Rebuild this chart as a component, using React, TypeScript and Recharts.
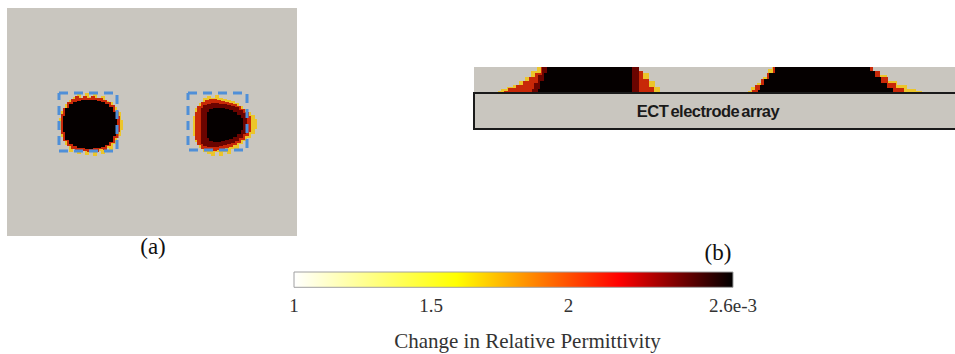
import React from 'react';
import { ComposedChart, Area, Line, Bar, XAxis, YAxis, ReferenceArea } from 'recharts';

// panel (a): plan view, units of the panel grid (x 0..290, y 0..228, y downward)
const leftBlobOuter = [
  { x: 52, r: [110, 122] }, { x: 56, r: [103, 129] }, { x: 60, r: [96, 137] }, { x: 64, r: [92, 144] },
  { x: 68, r: [89, 140] }, { x: 72, r: [86, 146] }, { x: 76, r: [90, 142] }, { x: 80, r: [85, 147] },
  { x: 84, r: [89, 143] }, { x: 88, r: [86, 148] }, { x: 92, r: [90, 143] }, { x: 96, r: [88, 146] },
  { x: 100, r: [93, 140] }, { x: 104, r: [94, 142] }, { x: 108, r: [99, 136] }, { x: 112, r: [104, 128] },
  { x: 116, r: [112, 122] },
];
const leftBlobRed = [
  { x: 54, r: [106, 126] }, { x: 58, r: [100, 133] }, { x: 62, r: [94, 138] }, { x: 66, r: [91, 141] },
  { x: 70, r: [88, 142] }, { x: 74, r: [90, 143] }, { x: 78, r: [88, 143] }, { x: 82, r: [90, 144] },
  { x: 86, r: [88, 143] }, { x: 90, r: [90, 144] }, { x: 94, r: [90, 141] }, { x: 98, r: [92, 142] },
  { x: 102, r: [94, 138] }, { x: 106, r: [97, 135] }, { x: 110, r: [103, 130] }, { x: 113, r: [108, 124] },
];
const leftBlobCore = [
  { x: 56, r: [108, 124] }, { x: 60, r: [100, 132] }, { x: 64, r: [96, 136] }, { x: 68, r: [94, 138] },
  { x: 72, r: [93, 140] }, { x: 76, r: [92, 140] }, { x: 80, r: [92, 141] }, { x: 84, r: [92, 141] },
  { x: 88, r: [92, 140] }, { x: 92, r: [93, 140] }, { x: 96, r: [94, 139] }, { x: 100, r: [96, 137] },
  { x: 104, r: [99, 134] }, { x: 108, r: [104, 128] }, { x: 110, r: [110, 122] },
];
const rightBlobOuter = [
  { x: 186, r: [108, 128] }, { x: 190, r: [100, 134] }, { x: 194, r: [95, 140] }, { x: 198, r: [90, 144] },
  { x: 202, r: [88, 146] }, { x: 206, r: [90, 148] }, { x: 210, r: [87, 144] }, { x: 214, r: [90, 148] },
  { x: 218, r: [91, 144] }, { x: 222, r: [92, 146] }, { x: 226, r: [93, 141] }, { x: 230, r: [95, 142] },
  { x: 234, r: [98, 136] }, { x: 238, r: [101, 133] }, { x: 242, r: [104, 130] }, { x: 246, r: [107, 126] },
  { x: 250, r: [111, 121] },
];
const rightBlobRed = [
  { x: 188, r: [104, 132] }, { x: 192, r: [98, 137] }, { x: 196, r: [94, 141] }, { x: 200, r: [92, 142] },
  { x: 204, r: [91, 143] }, { x: 208, r: [91, 143] }, { x: 212, r: [92, 142] }, { x: 216, r: [93, 141] },
  { x: 220, r: [94, 140] }, { x: 224, r: [95, 139] }, { x: 228, r: [96, 137] }, { x: 232, r: [98, 135] },
  { x: 236, r: [101, 132] }, { x: 240, r: [104, 128] }, { x: 244, r: [108, 124] },
];
const rightBlobDark = [
  { x: 194, r: [100, 136] }, { x: 198, r: [97, 138] }, { x: 202, r: [96, 139] }, { x: 206, r: [95, 139] },
  { x: 210, r: [95, 139] }, { x: 214, r: [96, 138] }, { x: 218, r: [96, 137] }, { x: 222, r: [97, 136] },
  { x: 226, r: [98, 135] }, { x: 230, r: [99, 133] }, { x: 234, r: [102, 130] }, { x: 238, r: [105, 126] },
  { x: 240, r: [107, 124] },
];
const rightBlobCore = [
  { x: 200, r: [104, 130] }, { x: 204, r: [101, 133] }, { x: 208, r: [100, 134] }, { x: 212, r: [100, 134] },
  { x: 216, r: [100, 133] }, { x: 220, r: [101, 132] }, { x: 224, r: [102, 131] }, { x: 228, r: [104, 129] },
  { x: 232, r: [107, 126] }, { x: 236, r: [110, 122] },
];
const leftBox = [{ x: 52, y: 85 }, { x: 110, y: 85 }, { x: 110, y: 143 }, { x: 52, y: 143 }, { x: 52, y: 85 }];
const rightBox = [{ x: 181, y: 85 }, { x: 240, y: 85 }, { x: 240, y: 142 }, { x: 181, y: 142 }, { x: 181, y: 85 }];

// panel (b): side view above the electrode array, heights 0..26
const sideLeftOuter = [
  { x: 24, h: 2 }, { x: 30, h: 4 }, { x: 36, h: 6 }, { x: 42, h: 8 }, { x: 48, h: 12 }, { x: 54, h: 16 },
  { x: 60, h: 22 }, { x: 66, h: 26 }, { x: 172, h: 20 }, { x: 178, h: 12 }, { x: 184, h: 6 }, { x: 188, h: 0 },
];
const sideLeftRed = [
  { x: 30, h: 2 }, { x: 38, h: 5 }, { x: 46, h: 8 }, { x: 52, h: 12 }, { x: 58, h: 16 }, { x: 64, h: 20 },
  { x: 70, h: 26 }, { x: 166, h: 22 }, { x: 172, h: 14 }, { x: 178, h: 6 }, { x: 182, h: 0 },
];
const sideLeftDark = [
  { x: 58, h: 4 }, { x: 62, h: 10 }, { x: 66, h: 18 }, { x: 70, h: 26 }, { x: 162, h: 26 }, { x: 168, h: 0 },
];
const sideLeftCore = [
  { x: 64, h: 4 }, { x: 68, h: 12 }, { x: 72, h: 20 }, { x: 74, h: 26 }, { x: 156, h: 26 }, { x: 160, h: 0 },
];
const sideRightOuter = [
  { x: 274, h: 2 }, { x: 280, h: 6 }, { x: 286, h: 10 }, { x: 292, h: 16 }, { x: 296, h: 24 }, { x: 300, h: 26 },
  { x: 400, h: 22 }, { x: 408, h: 18 }, { x: 418, h: 12 }, { x: 428, h: 8 }, { x: 438, h: 4 }, { x: 446, h: 2 },
  { x: 450, h: 0 },
];
const sideRightRed = [
  { x: 278, h: 3 }, { x: 284, h: 8 }, { x: 290, h: 14 }, { x: 296, h: 20 }, { x: 302, h: 26 }, { x: 396, h: 26 },
  { x: 402, h: 22 }, { x: 410, h: 16 }, { x: 418, h: 10 }, { x: 426, h: 5 }, { x: 434, h: 0 },
];
const sideRightCore = [
  { x: 284, h: 3 }, { x: 288, h: 8 }, { x: 292, h: 14 }, { x: 298, h: 20 }, { x: 304, h: 26 }, { x: 394, h: 26 },
  { x: 398, h: 22 }, { x: 404, h: 16 }, { x: 410, h: 10 }, { x: 416, h: 5 }, { x: 422, h: 0 },
];

// colour bar
const colorbarRange = [{ name: 'cb', range: [1, 2.6] }];
const colorbarTicks = [1, 1.5, 2, 2.6];
const colorbarTickLabels = ['1', '1.5', '2', '2.6e-3'];

const GRAY = '#c9c6bf';
const YELLOW = '#ecc52a';
const RED = '#c82808';
const DARK = '#6a0400';
const BLACK = '#050000';
const BLUE = '#4f8fd8';
const serif = '"Liberation Serif", "Times New Roman", serif';

function blob(data: any[], fill: string, key: string) {
  return (
    <Area key={key} data={data} dataKey="r" type="step" fill={fill} fillOpacity={1} stroke="none"
      dot={false} activeDot={false} isAnimationActive={false} />
  );
}

function side(data: any[], fill: string, key: string) {
  return (
    <Area key={key} data={data} dataKey="h" type="step" fill={fill} fillOpacity={1} stroke="none"
      baseValue={0} dot={false} activeDot={false} isAnimationActive={false} />
  );
}

export default function App() {
  return (
    <div style={{ position: 'absolute', left: 0, top: 0, width: 955, height: 354, overflow: 'hidden', background: '#fff' }}>
      <div style={{ position: 'absolute', left: 7, top: 8 }}>
        <ComposedChart width={290} height={228} margin={{ top: 0, right: 0, bottom: 0, left: 0 }}>
          <XAxis type="number" dataKey="x" domain={[0, 290]} hide allowDuplicatedCategory={false} />
          <YAxis type="number" domain={[0, 228]} reversed hide />
          <ReferenceArea x1={0} x2={290} y1={0} y2={228} fill={GRAY} fillOpacity={1} stroke="none" />
          {blob(leftBlobOuter, YELLOW, 'lo')}
          {blob(leftBlobRed, RED, 'lr')}
          {blob(leftBlobCore, BLACK, 'lc')}
          {blob(rightBlobOuter, YELLOW, 'ro')}
          {blob(rightBlobRed, RED, 'rr')}
          {blob(rightBlobDark, DARK, 'rd')}
          {blob(rightBlobCore, BLACK, 'rc')}
          <Line data={leftBox} dataKey="y" type="linear" stroke={BLUE} strokeWidth={3} strokeDasharray="9 6"
            dot={false} activeDot={false} isAnimationActive={false} />
          <Line data={rightBox} dataKey="y" type="linear" stroke={BLUE} strokeWidth={3} strokeDasharray="9 6"
            dot={false} activeDot={false} isAnimationActive={false} />
        </ComposedChart>
      </div>
      <div style={{ position: 'absolute', left: 128, top: 233, width: 50, textAlign: 'center', fontFamily: serif, fontSize: 23, lineHeight: '28px', color: '#111' }}>(a)</div>

      <div style={{ position: 'absolute', left: 472, top: 66 }}>
        <ComposedChart width={486} height={64} margin={{ top: 1, right: 0, bottom: 1, left: 2 }}>
          <XAxis type="number" dataKey="x" domain={[0, 484]} hide allowDuplicatedCategory={false} />
          <YAxis type="number" domain={[-36, 26]} hide />
          <ReferenceArea x1={0} x2={484} y1={0} y2={26} fill={GRAY} fillOpacity={1} stroke="none" />
          {side(sideLeftOuter, YELLOW, 'so')}
          {side(sideLeftRed, RED, 'sr')}
          {side(sideLeftDark, DARK, 'sd')}
          {side(sideLeftCore, BLACK, 'sc')}
          {side(sideRightOuter, YELLOW, 'to')}
          {side(sideRightRed, RED, 'tr')}
          {side(sideRightCore, BLACK, 'tc')}
          <ReferenceArea x1={0} x2={484} y1={-36} y2={0} fill={GRAY} fillOpacity={1} stroke="#1a1a1a" strokeWidth={2}
            label={{ value: 'ECT electrode array', position: 'center', dx: -8, fill: '#1a1a1a', fontSize: 16.5, fontWeight: 'bold',
              fontFamily: '"Liberation Sans", Arial, sans-serif', letterSpacing: -0.5, wordSpacing: -2 }} />
        </ComposedChart>
      </div>
      <div style={{ position: 'absolute', left: 693, top: 239, width: 50, textAlign: 'center', fontFamily: serif, fontSize: 23, lineHeight: '28px', color: '#111' }}>(b)</div>

      <div style={{ position: 'absolute', left: 264, top: 262 }}>
        <ComposedChart width={499} height={92} layout="vertical" data={colorbarRange} barCategoryGap={0}
          margin={{ top: 9, right: 30, bottom: 0, left: 30 }}>
          <defs>
            <linearGradient id="hot" x1="0" y1="0" x2="1" y2="0">
              <stop offset="0%" stopColor="#ffffff" />
              <stop offset="37%" stopColor="#ffff00" />
              <stop offset="74%" stopColor="#ff0000" />
              <stop offset="100%" stopColor="#000000" />
            </linearGradient>
          </defs>
          <XAxis type="number" domain={[1, 2.6]} ticks={colorbarTicks} height={66} axisLine={false} tickLine={false}
            tickMargin={5} interval={0}
            tickFormatter={(v: number) => colorbarTickLabels[colorbarTicks.indexOf(v)]}
            tick={{ fontFamily: serif, fontSize: 19, fill: '#333' }}
            label={{ value: 'Change in Relative Permittivity', position: 'insideBottom', offset: 6, dx: 14, fontFamily: serif, fontSize: 21, fill: '#333' }} />
          <YAxis type="category" dataKey="name" hide />
          <Bar dataKey="range" fill="url(#hot)" stroke="#a0a0a0" strokeWidth={1} barSize={17} isAnimationActive={false} />
        </ComposedChart>
      </div>
    </div>
  );
}
